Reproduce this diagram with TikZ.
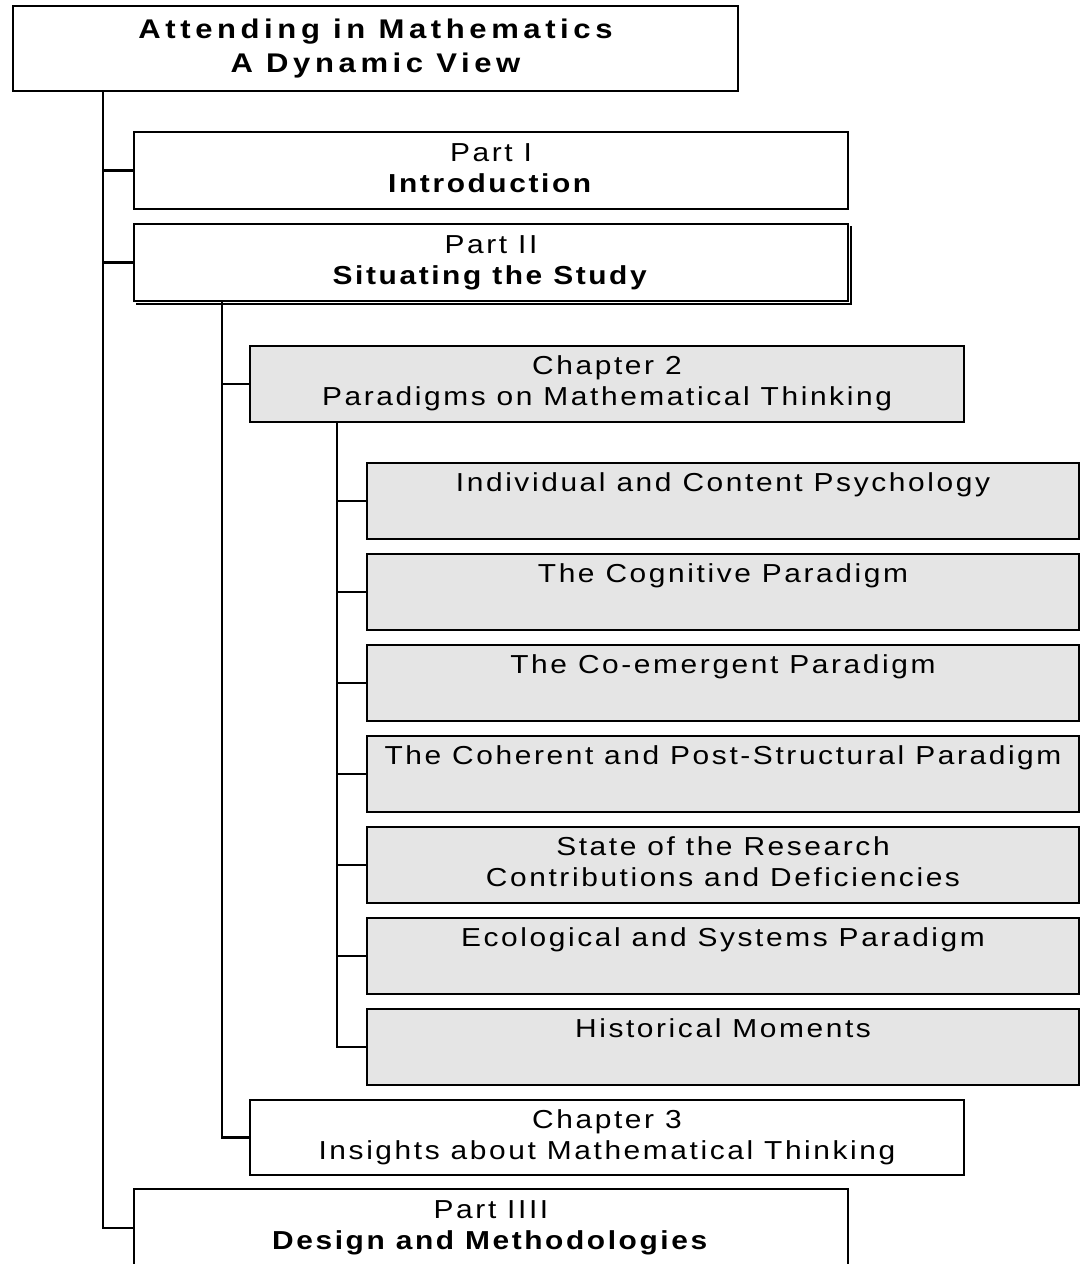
\documentclass[tikz,border=0pt]{standalone}
\usepackage{fontspec}
\setmainfont{Liberation Sans}[FakeStretch=1.15, LetterSpace=10]
\definecolor{paper}{gray}{0.9}
\begin{document}
\begin{tikzpicture}[x=1pt,y=-1pt,
  box/.style={draw=black, line width=2pt, fill=white, rectangle, inner sep=0pt,
    anchor=north west, align=center, font=\fontsize{26}{31}\selectfont},
  partbox/.style={box, minimum width=714pt, minimum height=77pt},
  chapbox/.style={box, minimum width=714pt, minimum height=76pt},
  paradbox/.style={box, fill=paper, minimum width=712pt, minimum height=76pt},
  link/.style={line width=2.4pt},
]
\useasboundingbox (0,0) rectangle (1080,1264);

% title
\node[box, minimum width=725pt, minimum height=85pt,
  font=\bfseries\fontsize{27}{34}\selectfont\addfontfeatures{LetterSpace=17}] (top) at (12,5)
  {\strut Attending in Mathematics\\\strut A Dynamic View};

% parts
\node[partbox] (p1) at (133,131) {\strut Part I\\\strut\textbf{Introduction}};
\node[partbox] (p2) at (133,223) {\strut Part II\\\strut\textbf{Situating the Study}};
\draw[line width=2.2pt] ([shift={(2,3)}]p2.north east) -- ([shift={(2,2)}]p2.south east)
  -- ([shift={(3,2)}]p2.south west);

% chapters
\node[chapbox, fill=paper] (ch2) at (249,345) {\strut Chapter 2\\\strut Paradigms on Mathematical Thinking};

% paradigms
\node[paradbox] (s1) at (366,462)  {\strut Individual and Content Psychology\\\strut};
\node[paradbox] (s2) at (366,553)  {\strut The Cognitive Paradigm\\\strut};
\node[paradbox] (s3) at (366,644)  {\strut The Co-emergent Paradigm\\\strut};
\node[paradbox] (s4) at (366,735)  {\strut The Coherent and Post-Structural Paradigm\\\strut};
\node[paradbox] (s5) at (366,826)  {\strut State of the Research\\\strut Contributions and Deficiencies};
\node[paradbox] (s6) at (366,917)  {\strut Ecological and Systems Paradigm\\\strut};
\node[paradbox] (s7) at (366,1008) {\strut Historical Moments\\\strut};

\node[chapbox, minimum height=75pt] (ch3) at (249,1099) {\strut Chapter 3\\\strut Insights about Mathematical Thinking};

\node[partbox, minimum height=78pt] (p3) at (133,1188) {\strut Part IIII\\\strut\textbf{Design and Methodologies}};

% tree connectors
\path (top.south west) ++(91,0) coordinate (r0);
\draw[link] (r0) |- (p3.west);
\draw[link] (r0 |- p1.west) -- (p1.west);
\draw[link] (r0 |- p2.west) -- (p2.west);

\path (p2.south west) ++(89,0) coordinate (r1);
\draw[link] (r1) |- (ch3.west);
\draw[link] (r1 |- ch2.west) -- (ch2.west);

\path (ch2.south west) ++(88,0) coordinate (r2);
\draw[link] (r2) |- (s7.west);
\foreach \i in {1,...,6}
  \draw[link] (r2 |- s\i.west) -- (s\i.west);
\end{tikzpicture}
\end{document}
